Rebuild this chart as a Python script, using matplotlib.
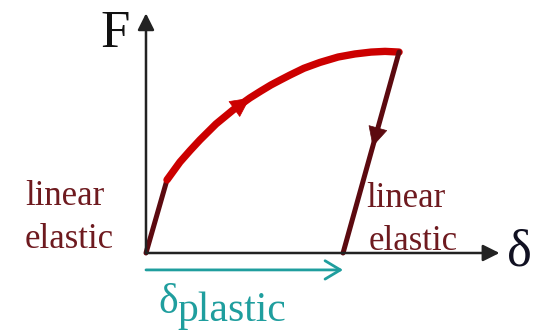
import numpy as np
import matplotlib.pyplot as plt
from matplotlib.patches import FancyArrowPatch

plt.rcParams['font.family'] = ['Liberation Serif', 'DejaVu Serif']

# loading path: elastic part, then plastic hardening
elastic_d = [0.0, 0.60]
elastic_f = [0.0, 3.11]

plastic_d = [0.60, 0.97, 1.26, 1.54, 2.00, 2.49, 2.97, 3.28, 3.57, 3.85,
             4.11, 4.51, 4.97, 5.49, 5.97, 6.43, 6.83, 7.23]
plastic_f = [3.11, 3.87, 4.36, 4.81, 5.49, 6.09, 6.60, 6.89, 7.15, 7.37,
             7.57, 7.86, 8.11, 8.34, 8.47, 8.55, 8.58, 8.55]

# elastic unloading back to zero force
unload_d = [7.23, 5.63]
unload_f = [8.55, 0.0]

d_plastic = unload_d[-1]

red = '#cc0000'
maroon = '#5c0a10'
teal = '#1f9e9e'
label_col = '#6e1a1f'

fig = plt.figure(figsize=(5.42, 3.34), dpi=100)
ax = fig.add_axes([0, 0, 1, 1])
ax.set_xlim(-4.171, 11.314)
ax.set_ylim(-3.447, 10.766)
ax.axis('off')


def arrow(p0, p1, color, lw, style='-|>', ms=20):
    ax.add_patch(FancyArrowPatch(p0, p1, arrowstyle=style, color=color,
                                 lw=lw, mutation_scale=ms,
                                 shrinkA=0, shrinkB=0, zorder=5))


# axes
axis_head = '-|>,head_length=0.5,head_width=0.25'
arrow((0, 0), (10.1, 0), '#222222', 1.8, axis_head)
arrow((0, 0), (0, 10.2), '#222222', 1.8, axis_head)

ax.plot(elastic_d, elastic_f, color=maroon, lw=3.6, solid_capstyle='round', zorder=4)
ax.plot(plastic_d, plastic_f, color=red, lw=5.3, solid_capstyle='round',
        solid_joinstyle='round', zorder=4)
ax.plot(unload_d, unload_f, color=maroon, lw=3.6, solid_capstyle='round', zorder=4)

# direction arrows on the path
path_head = '-|>,head_length=0.6,head_width=0.3'
i = 6
arrow((plastic_d[i - 1], plastic_f[i - 1]), (plastic_d[i], plastic_f[i]),
      red, 0.5, path_head, ms=22)
t = 0.47
tip = (unload_d[0] + t * (unload_d[1] - unload_d[0]),
       unload_f[0] + t * (unload_f[1] - unload_f[0]))
arrow((unload_d[0], unload_f[0]), tip, maroon, 0.5, path_head, ms=22)

# plastic offset
arrow((0, -0.72), (d_plastic, -0.72), teal, 2.0,
      '->,head_length=0.5,head_width=0.3', ms=22)

ax.text(-1.31, 8.77, 'F', fontsize=38, color='#111111', ha='left', va='baseline')
ax.text(10.3, 0.0, 'δ', fontsize=38, color='#111122', ha='left', va='center')

ax.text(-3.46, 2.04, 'linear', fontsize=25, color=label_col, va='baseline')
ax.text(-3.46, 0.21, 'elastic', fontsize=25, color=label_col, va='baseline')
ax.text(6.30, 1.96, 'linear', fontsize=25, color=label_col, va='baseline')
ax.text(6.36, 0.13, 'elastic', fontsize=25, color=label_col, va='baseline')

ax.text(0.34, -2.55, 'δ', fontsize=30, color=teal, va='baseline')
ax.text(0.89, -2.89, 'plastic', fontsize=30, color=teal, va='baseline')

fig.savefig('out.png', dpi=100)
